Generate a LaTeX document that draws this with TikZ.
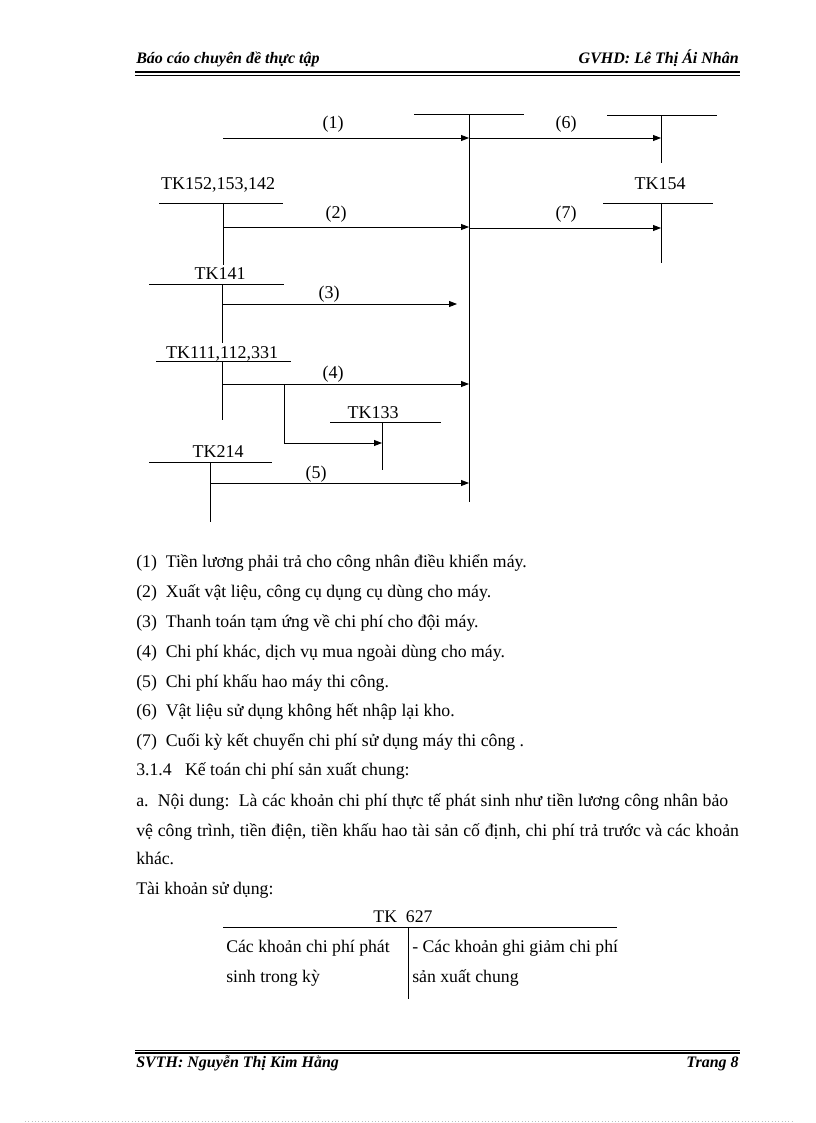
\documentclass[tikz,border=0pt]{standalone}
\usepackage{fontspec}
\setmainfont{Liberation Serif}
\usetikzlibrary{arrows.meta}
\begin{document}
\begin{tikzpicture}[x=0.75pt,y=-0.75pt,
  acct/.style={line width=0.65pt},
  arr/.style={line width=0.65pt,-{Triangle[length=6pt,width=4.5pt]}},
  lbl/.style={font=\fontsize{13.5}{15}\selectfont,inner sep=0pt,anchor=base},
  txt/.style={font=\fontsize{13.3}{15}\selectfont,inner sep=0pt,anchor=base west},
  hdr/.style={font=\fontsize{12}{14}\selectfont\bfseries\itshape,inner sep=0pt}]
\useasboundingbox (0,0) rectangle (816,1123);
\fill[white] (0,0) rectangle (816,1123);

% header / footer
\node[hdr,anchor=base west] (hl) at (136,64) {Báo cáo chuyên đề thực tập};
\node[hdr,anchor=base east] (hr) at (739,64) {GVHD: Lê Thị Ái Nhân};
\coordinate (h1a) at (135,72.5); \coordinate (h1b) at (740,72.5);
\coordinate (h2a) at (135,75.5); \coordinate (h2b) at (740,75.5);
\draw[line width=1.5pt] (h1a) -- (h1b);
\draw[line width=0.75pt] (h2a) -- (h2b);
\coordinate (f1a) at (135,1050); \coordinate (f1b) at (740,1050);
\coordinate (f2a) at (135,1053); \coordinate (f2b) at (740,1053);
\draw[line width=0.75pt] (f1a) -- (f1b);
\draw[line width=1.5pt] (f2a) -- (f2b);
\node[hdr,anchor=base west] (fl) at (136,1067) {SVTH: Nguyễn Thị Kim Hằng};
\node[hdr,anchor=base east] (fr) at (739,1067) {Trang 8};
\coordinate (d1) at (25,1121); \coordinate (d2) at (792,1121);
\draw[gray!50,line width=0.5pt,dotted] (d1) -- (d2);

% central account
\coordinate (cT1) at (414,114); \coordinate (cT2) at (524,114);
\coordinate (cV1) at (469,115); \coordinate (cV2) at (469,502);
\draw[acct] (cT1) -- (cT2); \draw[acct] (cV1) -- (cV2);
% upper right account
\coordinate (r1T1) at (607,115); \coordinate (r1T2) at (717,115);
\coordinate (r1V1) at (661,116); \coordinate (r1V2) at (661,163);
\draw[acct] (r1T1) -- (r1T2); \draw[acct] (r1V1) -- (r1V2);
% TK154
\node[lbl] (l154) at (660,190) {TK154};
\coordinate (r2T1) at (603,203); \coordinate (r2T2) at (713,203);
\coordinate (r2V1) at (661,203); \coordinate (r2V2) at (661,263);
\draw[acct] (r2T1) -- (r2T2); \draw[acct] (r2V1) -- (r2V2);
% TK152
\node[lbl] (l152) at (218,190) {TK152,153,142};
\coordinate (aT1) at (159,203); \coordinate (aT2) at (283,203);
\coordinate (aV1) at (223,203); \coordinate (aV2) at (223,265);
\draw[acct] (aT1) -- (aT2); \draw[acct] (aV1) -- (aV2);
% TK141
\node[lbl] (l141) at (220,279) {TK141};
\coordinate (bT1) at (149,284); \coordinate (bT2) at (284,284);
\coordinate (bV1) at (222,284); \coordinate (bV2) at (222,343);
\draw[acct] (bT1) -- (bT2); \draw[acct] (bV1) -- (bV2);
% TK111
\node[lbl] (l111) at (222,358) {TK111,112,331};
\coordinate (cc1) at (156,361); \coordinate (cc2) at (291,361);
\coordinate (ccV1) at (222,361); \coordinate (ccV2) at (222,420);
\draw[acct] (cc1) -- (cc2); \draw[acct] (ccV1) -- (ccV2);
% TK133
\node[lbl] (l133) at (373,418) {TK133};
\coordinate (dT1) at (330,422); \coordinate (dT2) at (441,422);
\coordinate (dV1) at (382,422); \coordinate (dV2) at (382,470);
\draw[acct] (dT1) -- (dT2); \draw[acct] (dV1) -- (dV2);
% TK214
\node[lbl] (l214) at (218,457) {TK214};
\coordinate (eT1) at (149,462); \coordinate (eT2) at (272,462);
\coordinate (eV1) at (210,462); \coordinate (eV2) at (210,522);
\draw[acct] (eT1) -- (eT2); \draw[acct] (eV1) -- (eV2);

% arrows
\coordinate (a1s) at (223,138); \coordinate (a1e) at (469,138);
\draw[arr] (a1s) -- (a1e);
\node[lbl] (n1) at (333,129) {(1)};
\coordinate (a6e) at (661,138);
\draw[arr] (a1e) -- (a6e);
\node[lbl] (n6) at (566,129) {(6)};
\coordinate (a2s) at (223,227); \coordinate (a2e) at (469,227);
\draw[arr] (a2s) -- (a2e);
\node[lbl] (n2) at (336,219) {(2)};
\coordinate (a7s) at (469,228); \coordinate (a7e) at (661,228);
\draw[arr] (a7s) -- (a7e);
\node[lbl] (n7) at (566,219) {(7)};
\coordinate (a3s) at (222,304); \coordinate (a3e) at (457,304);
\draw[arr] (a3s) -- (a3e);
\node[lbl] (n3) at (329,298) {(3)};
\coordinate (a4s) at (222,384); \coordinate (a4e) at (469,384);
\draw[arr] (a4s) -- (a4e);
\node[lbl] (n4) at (333,378) {(4)};
\coordinate (brs) at (284,384); \coordinate (bre) at (382,443);
\draw[arr] (brs) |- (bre);
\coordinate (a5s) at (210,483); \coordinate (a5e) at (469,483);
\draw[arr] (a5s) -- (a5e);
\node[lbl] (n5) at (316,478) {(5)};

% legend text
\node[txt] (t1) at (136,567) {(1)\ \ Tiền lương phải trả cho công nhân điều khiển máy.};
\node[txt] (t2) at (136,597) {(2)\ \ Xuất vật liệu, công cụ dụng cụ dùng cho máy.};
\node[txt] (t3) at (136,627) {(3)\ \ Thanh toán tạm ứng về chi phí cho đội máy.};
\node[txt] (t4) at (136,657) {(4)\ \ Chi phí khác, dịch vụ mua ngoài dùng cho máy.};
\node[txt] (t5) at (136,687) {(5)\ \ Chi phí khấu hao máy thi công.};
\node[txt] (t6) at (136,716) {(6)\ \ Vật liệu sử dụng không hết nhập lại kho.};
\node[txt] (t7) at (136,746) {(7)\ \ Cuối kỳ kết chuyển chi phí sử dụng máy thi công .};
\node[txt] (t8) at (136,775) {3.1.4\ \ \ Kế toán chi phí sản xuất chung:};
\node[txt] (t9) at (136,806) {\makebox[444pt][s]{a.\ \ Nội dung:\ \ Là các khoản chi phí thực tế phát sinh như tiền lương công nhân bảo}};
\node[txt] (t10) at (136,836) {\makebox[452pt][s]{vệ công trình, tiền điện, tiền khấu hao tài sản cố định, chi phí trả trước và các khoản}};
\node[txt] (t11) at (136,864) {khác.};
\node[txt] (t12) at (136,894) {Tài khoản sử dụng:};

% TK 627
\node[lbl,font=\fontsize{13.3}{15}\selectfont] (l627) at (403,922) {TK\ \ 627};
\coordinate (gT1) at (223,927); \coordinate (gT2) at (617,927);
\coordinate (gV1) at (408,928); \coordinate (gV2) at (408,999);
\draw[acct] (gT1) -- (gT2); \draw[acct] (gV1) -- (gV2);
\node[txt] (g1) at (226,952) {Các khoản chi phí phát};
\node[txt] (g2) at (226,982) {sinh trong kỳ};
\node[txt] (g3) at (412,952) {- Các khoản ghi giảm chi phí};
\node[txt] (g4) at (412,982) {sản xuất chung};
\end{tikzpicture}
\end{document}
